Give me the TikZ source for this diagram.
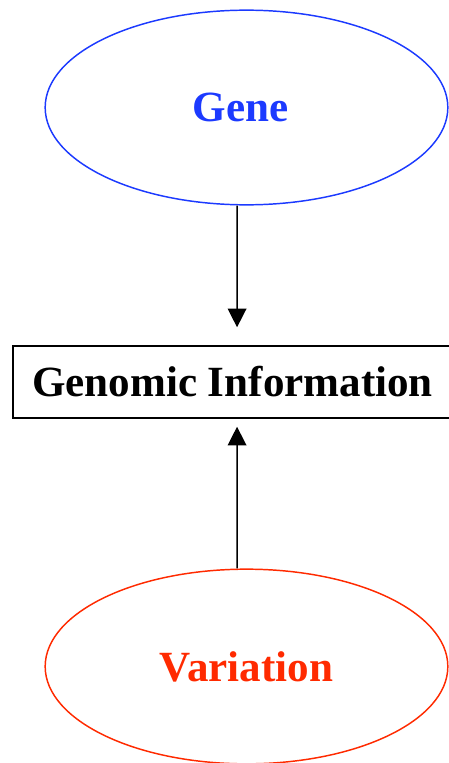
\documentclass[tikz,border=0pt]{standalone}
\usepackage{fontspec}
\setmainfont{Liberation Serif}
\usetikzlibrary{positioning,
        shapes,
        arrows.meta}
\definecolor{geneblue}{RGB}{28,58,255}
\definecolor{varred}{RGB}{255,42,0}

\begin{document}
\begin{tikzpicture}[x=0.75pt,y=-0.75pt,
        bubble/.style={ellipse,draw,line width=1.1pt,inner sep=0pt,
            minimum width=302pt,minimum height=146pt,
            font=\fontsize{32.3}{36}\selectfont\bfseries},
        infobox/.style={rectangle,draw,line width=1.1pt,inner sep=0pt,
            minimum width=329pt,minimum height=54pt,
            font=\fontsize{32.3}{36}\selectfont\bfseries},
        arr/.style={-{Triangle[length=14pt,width=14pt]},line width=1.1pt}]
            \useasboundingbox (0,0) rectangle (449,763);
            \node [bubble,draw=geneblue,text=geneblue] (Gene) at (246.5,107.5) {\hspace*{-9pt}Gene};
            \node [infobox] (Info) at (232.5,382) {Genomic Information};
            \node [bubble,draw=varred,text=varred] (Var) at (246.5,666.5) {Variation};

            \draw [arr,shorten >=13.5pt] ([xshift=-7pt]Gene.south) -- ([xshift=3.4pt]Info.north);
            \draw [arr,shorten >=6pt] ([xshift=-7pt]Var.north) -- ([xshift=3.4pt]Info.south);
        \end{tikzpicture}
\end{document}
